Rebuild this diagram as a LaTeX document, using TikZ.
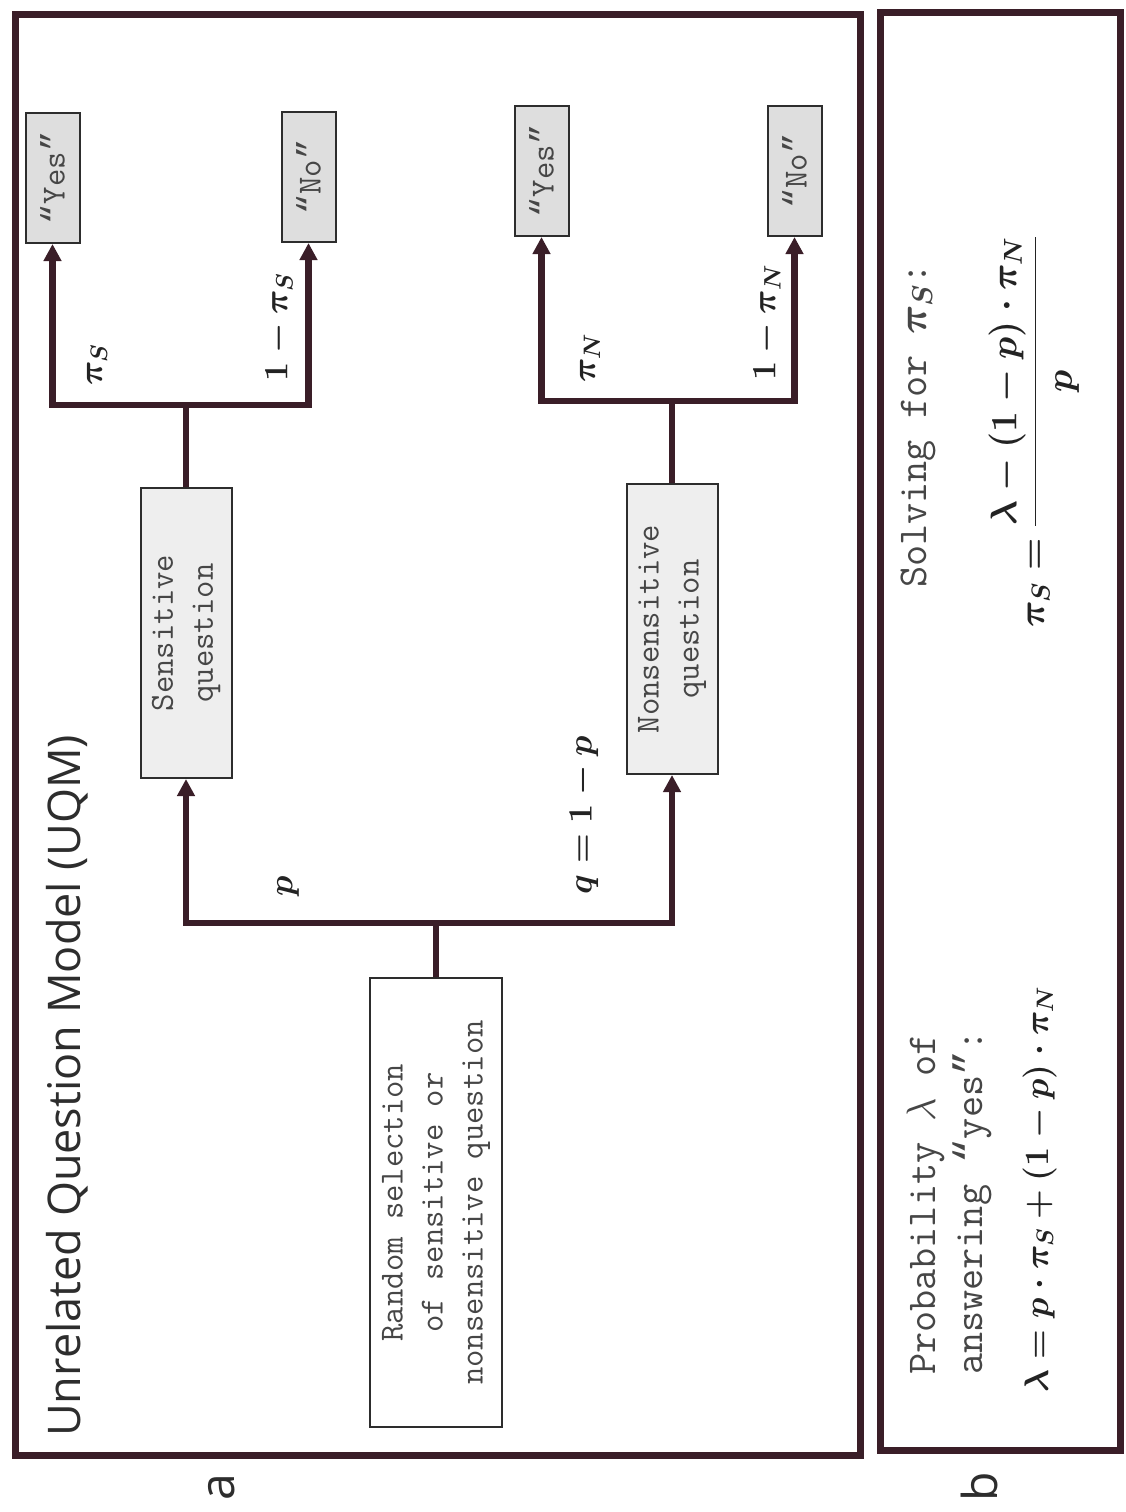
\RequirePackage{fix-cm}
\documentclass[tikz,border=0pt]{standalone}
\usepackage{fontspec}
\usetikzlibrary{arrows.meta}
\newfontfamily\titlefont{Open Sans}
\newfontfamily\qmono{Liberation Mono}
\newcommand\oq{{\qmono “}}
\newcommand\cq{{\qmono ”}}
\definecolor{linec}{RGB}{58,30,40}
\definecolor{boxline}{RGB}{45,45,45}
\definecolor{txtc}{RGB}{70,70,70}
\definecolor{titlec}{RGB}{45,45,45}
\definecolor{mathc}{RGB}{35,35,35}
\definecolor{ansfill}{RGB}{222,222,222}
\definecolor{qfill}{RGB}{238,238,238}
\begin{document}
\begin{tikzpicture}[x=1pt,y=1pt,
  frame/.style={draw=linec, line width=7pt},
  conn/.style={draw=linec, line width=6.5pt, line join=miter},
  arr/.style={conn, -{Triangle[length=17pt,width=17pt]}},
  ansbox/.style={draw=boxline, line width=2pt, fill=ansfill, rotate=90, minimum width=130pt, minimum height=54pt, inner sep=0pt, font=\ttfamily\fontsize{33.7}{40}\selectfont, text=txtc},
  qbox/.style={draw=boxline, line width=2pt, fill=qfill, rotate=90, minimum width=290pt, minimum height=91pt, inner sep=0pt, align=center, font=\ttfamily\fontsize{33.7}{40}\selectfont, text=txtc},
  rbox/.style={qbox, fill=white, minimum width=449pt, minimum height=132pt},
  mlab/.style={rotate=90, inner sep=0pt, font=\fontsize{34}{40}\selectfont\boldmath, text=mathc},
  btext/.style={rotate=90, inner sep=0pt, anchor=base west, font=\ttfamily\fontsize{41}{48}\selectfont, text=txtc},
  bmath/.style={rotate=90, inner sep=0pt, anchor=base west, font=\fontsize{34}{40}\selectfont\boldmath, text=mathc},
  plabel/.style={rotate=90, inner sep=0pt, font=\titlefont\fontsize{48}{54}\selectfont, text=titlec}
]
\useasboundingbox (0,0) rectangle (1125,-1512);
\fill[white] (0,0) rectangle (1125,-1512);

% frames
\draw[frame] (15,-15) rectangle (860,-1455);
\draw[frame] (880,-13) rectangle (1120,-1450);

% title
\node[rotate=90, anchor=base west, inner sep=0pt, font=\titlefont\fontsize{45}{54}\selectfont, text=titlec] (title) at (80,-1437) {Unrelated Question Model (UQM)};

% boxes
\node[ansbox] (yesS) at (52.5,-178) {\oq Yes\cq};
\node[ansbox] (noS) at (308.5,-177) {\oq No\cq};
\node[ansbox] (yesN) at (541.5,-171) {\oq Yes\cq};
\node[ansbox] (noN) at (794.5,-171) {\oq No\cq};
\node[qbox] (sens) at (186,-633) {Sensitive\\question};
\node[qbox] (nons) at (672,-629) {Nonsensitive\\question};
\node[rbox] (rand) at (436,-1202.5) {Random selection\\of sensitive or\\nonsensitive question};

% junctions
\coordinate (j1) at (436,-923);
\coordinate (j2) at (186,-405);
\coordinate (j3) at (672,-401);

% connectors
\draw[conn] (rand.east) -- (j1);
\draw[arr] (j1) -| (sens.west);
\draw[arr] (j1) -| (nons.west);
\draw[conn] (sens.east) -- (j2);
\draw[arr] (j2) -| (yesS.west);
\draw[arr] (j2) -| (noS.west);
\draw[conn] (nons.east) -- (j3);
\draw[arr] (j3) -| (yesN.west);
\draw[arr] (j3) -| (noN.west);

% branch labels
\node[mlab] (lp) at (288,-886) {$p$};
\node[mlab] (lq) at (584,-815) {$q=1-p$};
\node[mlab] (lpiS) at (97,-365) {$\pi_S$};
\node[mlab] (l1piS) at (279,-327) {$1-\pi_S$};
\node[mlab] (lpiN) at (590,-358) {$\pi_N$};
\node[mlab] (l1piN) at (767,-323) {$1-\pi_N$};

% panel b
\node[btext] (prob) at (935,-1375) {Probability $\lambda$ of};
\node[btext] (answ) at (982,-1375) {answering \oq yes\cq:};
\node[bmath] (lam) at (1048,-1393) {$\lambda=p\cdot\pi_S+(1-p)\cdot\pi_N$};
\node[btext] (solv) at (926,-588) {Solving for {\boldmath$\pi_S$}:};
\node[bmath, font=\fontsize{37}{44}\selectfont\boldmath] (frac) at (1044,-628) {$\displaystyle\pi_S=\frac{\lambda-(1-p)\cdot\pi_N}{p}$};

% panel labels
\node[plabel] (la) at (222,-1487) {a};
\node[plabel] (lb) at (979,-1487) {b};
\end{tikzpicture}
\end{document}
